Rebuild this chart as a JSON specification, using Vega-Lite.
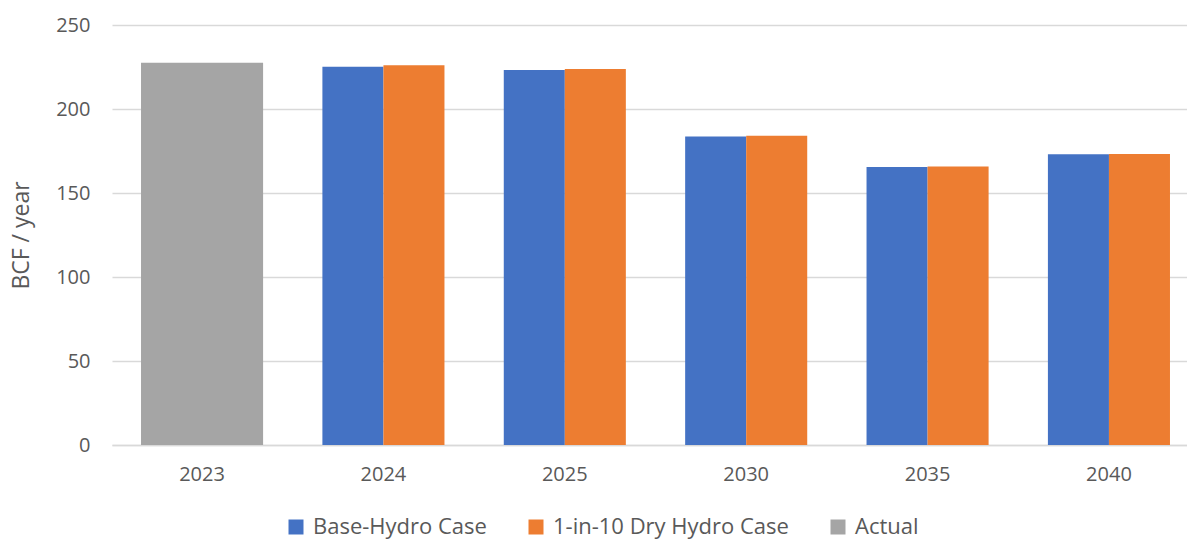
{
  "$schema": "https://vega.github.io/schema/vega-lite/v6.json",
  "width": 1087,
  "height": 420,
  "autosize": "none",
  "padding": {"left": 112, "top": 25, "right": 0, "bottom": 97},
  "background": "#ffffff",
  "config": {
    "view": {"stroke": null},
    "font": "Open Sans",
    "axis": {"labelFont": "Open Sans", "titleFont": "Open Sans", "labelColor": "#595959", "titleColor": "#595959"},
    "legend": {"labelFont": "Open Sans"}
  },
  "data": {
    "values": [
      {"year": "2023", "series": "Actual", "value": 227.6},
      {"year": "2024", "series": "Base-Hydro Case", "value": 225.2},
      {"year": "2024", "series": "1-in-10 Dry Hydro Case", "value": 226.1},
      {"year": "2025", "series": "Base-Hydro Case", "value": 223.2},
      {"year": "2025", "series": "1-in-10 Dry Hydro Case", "value": 223.8},
      {"year": "2030", "series": "Base-Hydro Case", "value": 183.7},
      {"year": "2030", "series": "1-in-10 Dry Hydro Case", "value": 184.1},
      {"year": "2035", "series": "Base-Hydro Case", "value": 165.5},
      {"year": "2035", "series": "1-in-10 Dry Hydro Case", "value": 165.7},
      {"year": "2040", "series": "Base-Hydro Case", "value": 173.0},
      {"year": "2040", "series": "1-in-10 Dry Hydro Case", "value": 173.2}
    ]
  },
  "encoding": {
    "x": {
      "field": "year", "type": "nominal",
      "scale": {"domain": ["2023", "2024", "2025", "2030", "2035", "2040"], "paddingInner": 0.327, "paddingOuter": 0.16},
      "axis": {"title": null, "labelAngle": 0, "labelFontSize": 20, "labelPadding": 19, "ticks": false, "domainColor": "#d9d9d9", "domainWidth": 1.5, "grid": false}
    },
    "y": {
      "field": "value", "type": "quantitative",
      "scale": {"domain": [0, 250], "nice": false},
      "axis": {"title": "BCF / year", "values": [0, 50, 100, 150, 200, 250], "labelFontSize": 20, "labelPadding": 22, "titleFontSize": 23, "titleFontWeight": "normal", "titlePadding": 22, "ticks": false, "domain": false, "gridColor": "#d9d9d9", "gridWidth": 1.5}
    },
    "color": {
      "field": "series", "type": "nominal",
      "scale": {"domain": ["Base-Hydro Case", "1-in-10 Dry Hydro Case", "Actual"], "range": ["#4472c4", "#ed7d31", "#a5a5a5"]},
      "legend": {"title": null, "orient": "none", "legendX": 173, "legendY": 491, "direction": "horizontal", "symbolType": "square", "symbolSize": 225, "symbolStrokeWidth": 0, "symbolOpacity": 1, "labelFontSize": 22, "labelColor": "#595959", "labelLimit": 400, "columnPadding": 38, "labelOffset": 6}
    }
  },
  "layer": [
    {
      "transform": [{"filter": "datum.series === 'Actual'"}],
      "mark": {"type": "bar"}
    },
    {
      "transform": [{"filter": "datum.series !== 'Actual'"}],
      "mark": {"type": "bar"},
      "encoding": {
        "xOffset": {"field": "series", "type": "nominal", "scale": {"domain": ["Base-Hydro Case", "1-in-10 Dry Hydro Case"], "paddingInner": 0, "paddingOuter": 0}}
      }
    }
  ]
}
